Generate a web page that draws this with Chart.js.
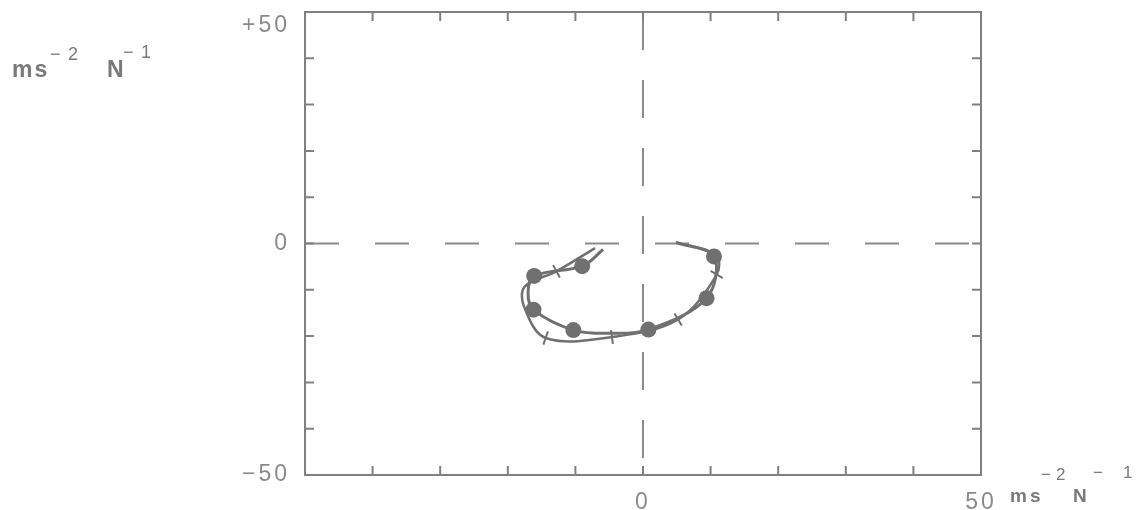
<!DOCTYPE html>
<html>
<head>
<meta charset="utf-8">
<script src="https://cdn.jsdelivr.net/npm/chart.js@4"></script>
<style>
  html, body { margin: 0; padding: 0; background: #fff; }
  #wrap { width: 1148px; height: 510px; position: relative; }
</style>
</head>
<body>
<div id="wrap"><canvas id="nyquistChart"></canvas></div>
<script>
// axis range and tick steps
const axisMin = -50;
const axisMax = 50;
const tickStep = 10;
const xLabelValues = [0, 50];
const yLabelValues = [-50, 0, 50];

// curve with filled circles
const circleX = [-5.9, -9.0, -16.1, -17.0, -16.2, -10.3, -4.7, 0.8, 9.4, 10.5, 4.9];
const circleY = [-1.3, -4.9, -7.0, -10.6, -14.3, -18.7, -19.4, -18.6, -11.8, -2.8, 0.2];
const circleMarked = [false, true, true, false, true, true, false, true, true, true, false];

// curve with cross ticks
const crossX = [-7.1, -12.8, -17.5, -17.6, -14.4, -4.6, 5.2, 10.9, 10.8, 4.9];
const crossY = [-1.0, -6.0, -9.3, -13.6, -20.4, -20.2, -16.4, -6.7, -2.6, 0.3];
const crossMarked = [false, true, false, false, true, true, true, true, false, false];

const GREY = '#707070';
const FRAME = '#808080';
const TEXT = '#8a8a8a';
const UNIT_BOLD = '"Liberation Sans Narrow", "Liberation Sans", sans-serif';

function toPoints(xs, ys) {
    return xs.map((x, i) => ({ x: x, y: ys[i] }));
}

// rotate the cross marks so they stand across the curve
function crossRotation(ctx) {
    const chart = ctx.chart;
    const i = ctx.dataIndex;
    const a = Math.max(i - 1, 0);
    const b = Math.min(i + 1, crossX.length - 1);
    const sx = chart.scales.x, sy = chart.scales.y;
    const dx = sx.getPixelForValue(crossX[b]) - sx.getPixelForValue(crossX[a]);
    const dy = sy.getPixelForValue(crossY[b]) - sy.getPixelForValue(crossY[a]);
    return Math.atan2(dy, dx) * 180 / Math.PI + 90;
}

// frame + inward tick marks on all four sides
const framePlugin = {
    id: 'frame',
    beforeDraw(chart) {
        // wider digit spacing for the tick labels, like the old plotter font
        chart.ctx.letterSpacing = '3px';
    },
    afterDraw(chart) {
        const { ctx, chartArea: area, scales } = chart;
        const len = 9;
        ctx.save();
        ctx.strokeStyle = FRAME;
        ctx.lineWidth = 2;
        ctx.strokeRect(area.left, area.top, area.right - area.left, area.bottom - area.top);
        ctx.beginPath();
        for (let v = axisMin + tickStep; v < axisMax; v += tickStep) {
            const px = scales.x.getPixelForValue(v);
            ctx.moveTo(px, area.top); ctx.lineTo(px, area.top + len);
            ctx.moveTo(px, area.bottom); ctx.lineTo(px, area.bottom - len);
            const py = scales.y.getPixelForValue(v);
            ctx.moveTo(area.left, py); ctx.lineTo(area.left + len, py);
            ctx.moveTo(area.right, py); ctx.lineTo(area.right - len, py);
        }
        ctx.stroke();
        ctx.restore();
    }
};

// unit labels with superscripts
function drawUnit(ctx, parts) {
    parts.forEach(p => {
        ctx.font = p.font;
        ctx.letterSpacing = p.ls || '0px';
        ctx.fillText(p.t, p.x, p.y);
    });
}

const unitPlugin = {
    id: 'units',
    afterDraw(chart) {
        const ctx = chart.ctx;
        ctx.save();
        ctx.fillStyle = '#7a7a7a';
        ctx.textBaseline = 'alphabetic';
        drawUnit(ctx, [
            { t: 'ms', x: 12, y: 77, font: 'bold 23px ' + UNIT_BOLD, ls: '2px' },
            { t: '\u2212', x: 50, y: 60, font: '18px "Liberation Sans"' },
            { t: '2', x: 68, y: 60, font: '18px "Liberation Sans"' },
            { t: 'N', x: 107, y: 77, font: 'bold 23px ' + UNIT_BOLD },
            { t: '\u2212', x: 123, y: 58, font: '18px "Liberation Sans"' },
            { t: '1', x: 141, y: 58, font: '18px "Liberation Sans"' }
        ]);
        drawUnit(ctx, [
            { t: 'ms', x: 1010, y: 502, font: 'bold 19px ' + UNIT_BOLD, ls: '3px' },
            { t: '\u2212', x: 1041, y: 480, font: '17px "Liberation Sans"' },
            { t: '2', x: 1056, y: 480, font: '17px "Liberation Sans"' },
            { t: 'N', x: 1073, y: 502, font: 'bold 19px ' + UNIT_BOLD },
            { t: '\u2212', x: 1093, y: 478, font: '17px "Liberation Sans"' },
            { t: '1', x: 1123, y: 478, font: '17px "Liberation Sans"' }
        ]);
        ctx.restore();
    }
};

function renderChart() {
    const ctx = document.getElementById('nyquistChart').getContext('2d');
    return new Chart(ctx, {
        type: 'line',
        data: {
            datasets: [
                {
                    label: 'circles',
                    data: toPoints(circleX, circleY),
                    borderColor: GREY,
                    borderWidth: 3,
                    tension: 0.35,
                    pointStyle: 'circle',
                    pointRadius: c => circleMarked[c.dataIndex] ? 8 : 0,
                    pointBackgroundColor: GREY,
                    pointBorderWidth: 0,
                    order: 1
                },
                {
                    label: 'crosses',
                    data: toPoints(crossX, crossY),
                    borderColor: GREY,
                    borderWidth: 2.5,
                    tension: 0.35,
                    pointStyle: 'line',
                    pointRadius: c => crossMarked[c.dataIndex] ? 7 : 0,
                    pointBorderColor: GREY,
                    pointBorderWidth: 2,
                    rotation: crossRotation,
                    order: 2
                },
                {
                    label: 'x axis',
                    data: [{ x: axisMin, y: 0 }, { x: axisMax, y: 0 }],
                    borderColor: TEXT,
                    borderWidth: 2,
                    borderDash: [34, 36],
                    pointRadius: 0,
                    order: 3
                },
                {
                    label: 'y axis',
                    data: [{ x: 0, y: axisMax }, { x: 0, y: axisMin }],
                    borderColor: TEXT,
                    borderWidth: 2,
                    borderDash: [38, 30],
                    pointRadius: 0,
                    order: 3
                }
            ]
        },
        options: {
            responsive: false,
            animation: false,
            layout: { padding: { top: 12, right: 167, bottom: 0, left: 0 } },
            plugins: { legend: { display: false }, tooltip: { enabled: false } },
            scales: {
                x: {
                    type: 'linear',
                    min: axisMin,
                    max: axisMax,
                    grid: { display: false },
                    border: { display: false },
                    ticks: {
                        stepSize: tickStep,
                        autoSkip: false,
                        maxRotation: 0,
                        padding: 6,
                        color: TEXT,
                        font: { family: 'Liberation Sans', size: 23 },
                        callback: v => xLabelValues.includes(v) ? String(v) : ''
                    },
                    afterFit(s) { s.height = 35; s.paddingLeft = 0; s.paddingRight = 0; }
                },
                y: {
                    type: 'linear',
                    min: axisMin,
                    max: axisMax,
                    grid: { display: false },
                    border: { display: false },
                    ticks: {
                        stepSize: tickStep,
                        autoSkip: false,
                        padding: 7,
                        color: TEXT,
                        font: { family: 'Liberation Sans', size: 23 },
                        callback: v => {
                            if (!yLabelValues.includes(v)) return '';
                            if (v > 0) return ['', '+' + v];
                            return v < 0 ? '\u2212' + Math.abs(v) : String(v);
                        }
                    },
                    afterFit(s) { s.width = 305; s.paddingTop = 0; s.paddingBottom = 0; }
                }
            }
        },
        plugins: [framePlugin, unitPlugin]
    });
}

document.getElementById('nyquistChart').width = 1148;
document.getElementById('nyquistChart').height = 510;
renderChart();
</script>
</body>
</html>
